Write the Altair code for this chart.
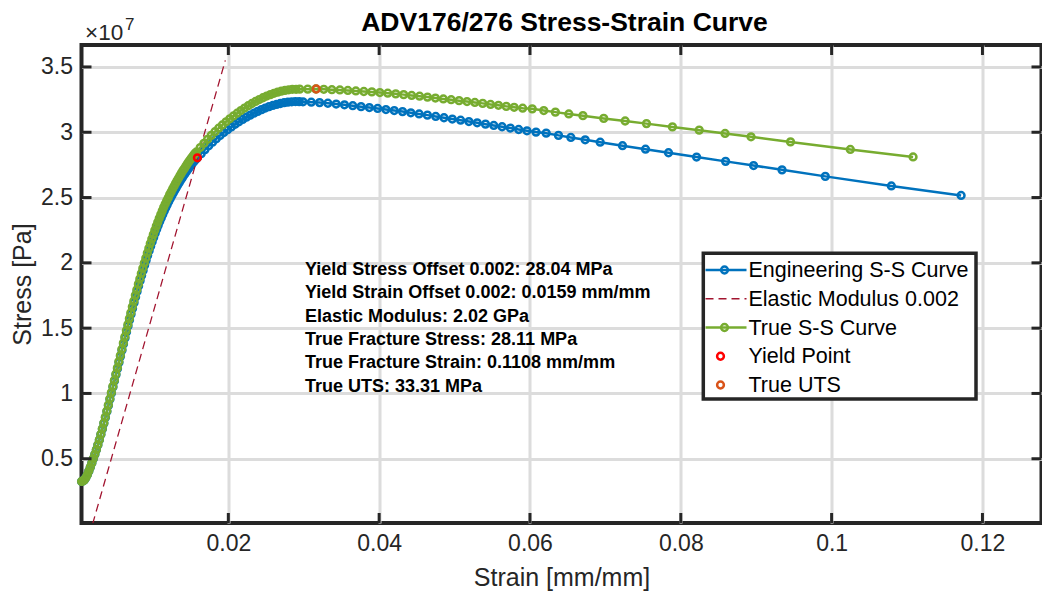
import altair as alt
import pandas as pd

# ---------------- data ----------------
ENG_STRAIN = [
    0.00054, 0.0007, 0.0009, 0.0011, 0.0013, 0.0015, 0.0017, 0.0019, 0.0021, 0.0023,
    0.0025, 0.0027, 0.0029, 0.0031, 0.0033, 0.0035, 0.0037, 0.0039, 0.0041, 0.0043,
    0.0045, 0.0047, 0.0049, 0.0051, 0.0053, 0.0055, 0.0057, 0.0059, 0.0061, 0.0063,
    0.0065, 0.0067, 0.0069, 0.0071, 0.0073, 0.0075, 0.0077, 0.0079, 0.0081, 0.0083,
    0.0085, 0.0087, 0.0089, 0.0091, 0.0093, 0.0095, 0.0097, 0.0099, 0.0101, 0.0103,
    0.0105, 0.0107, 0.0109, 0.0111, 0.0113, 0.0115, 0.0117, 0.0119, 0.0121, 0.0123,
    0.0125, 0.0127, 0.0129, 0.0131, 0.0133, 0.0135, 0.0137, 0.0139, 0.0141, 0.0143,
    0.0145, 0.0147, 0.0149, 0.0151, 0.0153, 0.0155, 0.0157, 0.0159,
    0.0164, 0.0169, 0.0174, 0.0179, 0.0184, 0.0189, 0.0194, 0.0199, 0.0204, 0.0209,
    0.0214, 0.0219, 0.0224, 0.0229, 0.0234, 0.0239, 0.0244, 0.0249, 0.0254, 0.0259,
    0.0264, 0.0269, 0.0274, 0.0279, 0.0284, 0.0289, 0.0294, 0.0299,
    0.0310, 0.0321, 0.0332, 0.0343, 0.0354, 0.0365, 0.0376, 0.0387, 0.0398, 0.0409,
    0.0420, 0.0431, 0.0442, 0.0453, 0.0464, 0.0475, 0.0486, 0.0497, 0.0508, 0.0519,
    0.0530, 0.0541, 0.0552, 0.0563, 0.0574, 0.0585, 0.0596, 0.0608,
    0.06215, 0.06378, 0.06542, 0.06732, 0.06931, 0.07227, 0.07532, 0.07837, 0.08209,
    0.08594, 0.08965, 0.09342, 0.09916, 0.10792, 0.11717,
]
ENG_STRESS_MPA = [
    3.26, 3.29, 3.38, 3.55, 3.78, 4.05, 4.35, 4.67, 5.00, 5.33,
    5.68, 6.05, 6.44, 6.85, 7.27, 7.71, 8.16, 8.62, 9.08, 9.55,
    10.02, 10.49, 10.96, 11.43, 11.90, 12.37, 12.84, 13.31, 13.78, 14.25,
    14.71, 15.17, 15.62, 16.07, 16.51, 16.95, 17.38, 17.80, 18.22, 18.63,
    19.03, 19.42, 19.81, 20.19, 20.56, 20.92, 21.27, 21.61, 21.94, 22.26,
    22.57, 22.87, 23.16, 23.44, 23.71, 23.97, 24.22, 24.46, 24.69, 24.92,
    25.14, 25.35, 25.56, 25.76, 25.96, 26.15, 26.34, 26.52, 26.70, 26.87,
    27.04, 27.20, 27.36, 27.51, 27.66, 27.80, 27.94, 28.04,
    28.36, 28.67, 28.96, 29.24, 29.50, 29.75, 29.98, 30.20, 30.41, 30.61,
    30.80, 30.98, 31.15, 31.31, 31.46, 31.60, 31.73, 31.85, 31.96, 32.05,
    32.13, 32.20, 32.26, 32.30, 32.33, 32.35, 32.34, 32.33,
    32.30, 32.27, 32.22, 32.16, 32.10, 32.03, 31.96, 31.89, 31.82, 31.74,
    31.66, 31.58, 31.49, 31.40, 31.31, 31.21, 31.11, 31.01, 30.92, 30.82,
    30.72, 30.62, 30.52, 30.42, 30.32, 30.21, 30.11, 30.01,
    29.93, 29.76, 29.60, 29.42, 29.24, 28.97, 28.70, 28.43, 28.10,
    27.77, 27.45, 27.12, 26.62, 25.89, 25.16,
]
TRUE_STRAIN = [
    0.00054, 0.0007, 0.0009, 0.0011, 0.0013, 0.0015, 0.0017, 0.0019, 0.0021, 0.0023,
    0.0025, 0.0027, 0.0029, 0.0031, 0.00329, 0.00349, 0.00369, 0.00389, 0.00409, 0.00429,
    0.00449, 0.00469, 0.00489, 0.00509, 0.00529, 0.00548, 0.00568, 0.00588, 0.00608, 0.00628,
    0.00648, 0.00668, 0.00688, 0.00707, 0.00727, 0.00747, 0.00767, 0.00787, 0.00807, 0.00827,
    0.00846, 0.00866, 0.00886, 0.00906, 0.00926, 0.00946, 0.00965, 0.00985, 0.01005, 0.01025,
    0.01045, 0.01064, 0.01084, 0.01104, 0.01124, 0.01143, 0.01163, 0.01183, 0.01203, 0.01222,
    0.01242, 0.01262, 0.01282, 0.01301, 0.01321, 0.01341, 0.01361, 0.01380, 0.01400, 0.01420,
    0.01440, 0.01459, 0.01479, 0.01499, 0.01518, 0.01538, 0.01558, 0.01577,
    0.01627, 0.01676, 0.01725, 0.01774, 0.01823, 0.01872, 0.01921, 0.01970, 0.02019, 0.02068,
    0.02117, 0.02166, 0.02215, 0.02264, 0.02313, 0.02361, 0.02410, 0.02459, 0.02508, 0.02557,
    0.02605, 0.02654, 0.02702, 0.02751, 0.02800, 0.02849, 0.02898, 0.02946,
    0.03053, 0.03160, 0.03266, 0.03373, 0.03479, 0.03585, 0.03691, 0.03797, 0.03903, 0.04009,
    0.04114, 0.04220, 0.04325, 0.04431, 0.04536, 0.04641, 0.04746, 0.04851, 0.04955, 0.05060,
    0.05165, 0.05269, 0.05373, 0.05477, 0.05582, 0.05686, 0.05790, 0.05903,
    0.06030, 0.06183, 0.06337, 0.06515, 0.06702, 0.06978, 0.07262, 0.07545, 0.07889,
    0.08244, 0.08587, 0.08931, 0.09455, 0.10248, 0.11080,
]
TRUE_STRESS_MPA = [
    3.26, 3.29, 3.38, 3.55, 3.78, 4.06, 4.36, 4.68, 5.01, 5.34,
    5.69, 6.07, 6.46, 6.87, 7.29, 7.74, 8.19, 8.65, 9.12, 9.59,
    10.07, 10.54, 11.01, 11.49, 11.96, 12.44, 12.91, 13.39, 13.86, 14.34,
    14.81, 15.27, 15.73, 16.18, 16.63, 17.08, 17.51, 17.94, 18.37, 18.78,
    19.19, 19.59, 19.99, 20.37, 20.75, 21.12, 21.48, 21.82, 22.16, 22.49,
    22.81, 23.11, 23.41, 23.70, 23.98, 24.25, 24.50, 24.75, 24.99, 25.23,
    25.45, 25.67, 25.89, 26.10, 26.31, 26.50, 26.70, 26.89, 27.08, 27.25,
    27.43, 27.60, 27.77, 27.93, 28.08, 28.23, 28.38, 28.49,
    28.83, 29.15, 29.46, 29.76, 30.04, 30.31, 30.56, 30.80, 31.03, 31.25,
    31.46, 31.66, 31.85, 32.03, 32.20, 32.36, 32.50, 32.64, 32.77, 32.88,
    32.98, 33.07, 33.14, 33.20, 33.25, 33.29, 33.29, 33.30,
    33.30, 33.31, 33.29, 33.26, 33.24, 33.20, 33.16, 33.12, 33.09, 33.04,
    32.99, 32.94, 32.88, 32.82, 32.76, 32.69, 32.62, 32.55, 32.49, 32.42,
    32.35, 32.28, 32.21, 32.13, 32.06, 31.98, 31.91, 31.84,
    31.79, 31.66, 31.54, 31.40, 31.27, 31.06, 30.86, 30.66, 30.41,
    30.16, 29.91, 29.65, 29.26, 28.68, 28.11,
]
ELASTIC_STRAIN = [0.002, 0.0196]
ELASTIC_STRESS_MPA = [0.0, 35.5]
YIELD_STRAIN = [0.0159]
YIELD_STRESS_MPA = [28.04]
UTS_STRAIN = [0.03166]
UTS_STRESS_MPA = [33.31]

X_TICKS = [0.02, 0.04, 0.06, 0.08, 0.10, 0.12]
Y_TICKS_MPA = [5, 10, 15, 20, 25, 30, 35]   # shown as 0.5 ... 3.5 (x10^7 Pa)

TITLE = "ADV176/276 Stress-Strain Curve"
X_TITLE = "Strain [mm/mm]"
Y_TITLE = "Stress [Pa]"
ANNOTATION = [
    "Yield Stress Offset 0.002: 28.04 MPa",
    "Yield Strain Offset 0.002: 0.0159 mm/mm",
    "Elastic Modulus: 2.02 GPa",
    "True Fracture Stress: 28.11 MPa",
    "True Fracture Strain: 0.1108 mm/mm",
    "True UTS: 33.31 MPa",
]
LEGEND_LABELS = [
    "Engineering S-S Curve",
    "Elastic Modulus 0.002",
    "True S-S Curve",
    "Yield Point",
    "True UTS",
]

# ---------------- styling / layout ----------------
FONT = "Liberation Sans"
DARK = "#262626"
BLUE = "#0072BD"
GREEN = "#77AC30"
RED = "#FF0000"
ORANGE = "#D95319"
MAROON = "#A2142F"
GRID = "#dcdcdc"

W, H = 960, 478
PAD = {"left": 81.5, "top": 45, "right": 0, "bottom": 75}
MK = 46
MKW = 2.5

xs = alt.Scale(domain=[0.00053, 0.12783], nice=False, zero=False)
ys = alt.Scale(domain=[0.08, 36.68], nice=False, zero=False)

xaxis = alt.Axis(
    values=X_TICKS, format="~g", grid=True, gridColor=GRID, gridWidth=3,
    ticks=False, tickSize=0, domain=False, labelFlush=False,
    labelFontSize=23, labelColor=DARK, labelFont=FONT, labelPadding=9,
    title=X_TITLE, titleFontSize=25, titleFont=FONT, titleColor=DARK,
    titleFontWeight="normal", titlePadding=10,
)
yaxis = alt.Axis(
    values=Y_TICKS_MPA, labelExpr="format(datum.value / 10, '~g')",
    grid=True, gridColor=GRID, gridWidth=3,
    ticks=False, tickSize=0, domain=False, labelFlush=False,
    labelFontSize=23, labelColor=DARK, labelFont=FONT, labelPadding=9,
    title=Y_TITLE, titleFontSize=25, titleFont=FONT, titleColor=DARK,
    titleFontWeight="normal", titlePadding=5,
)


def X():
    return alt.X("e:Q", scale=xs, axis=xaxis)


def Y():
    return alt.Y("s:Q", scale=ys, axis=yaxis)


eng = pd.DataFrame({"e": ENG_STRAIN, "s": ENG_STRESS_MPA})
tru = pd.DataFrame({"e": TRUE_STRAIN, "s": TRUE_STRESS_MPA})
ela = pd.DataFrame({"e": ELASTIC_STRAIN, "s": ELASTIC_STRESS_MPA})
yld = pd.DataFrame({"e": YIELD_STRAIN, "s": YIELD_STRESS_MPA})
uts = pd.DataFrame({"e": UTS_STRAIN, "s": UTS_STRESS_MPA})
xt = pd.DataFrame({"e": X_TICKS})
yt = pd.DataFrame({"s": Y_TICKS_MPA})
one = pd.DataFrame({"k": [0]})

layers = []
layers.append(alt.Chart(eng).mark_line(color=BLUE, strokeWidth=2.5).encode(x=X(), y=Y()))
layers.append(alt.Chart(eng).mark_point(shape="circle", filled=False, color=BLUE, size=MK,
                                        strokeWidth=MKW, opacity=1).encode(x=X(), y=Y()))
layers.append(alt.Chart(ela).mark_line(color=MAROON, strokeWidth=1.3, strokeDash=[8, 5],
                                       clip=True).encode(x=X(), y=Y()))
layers.append(alt.Chart(tru).mark_line(color=GREEN, strokeWidth=2.5).encode(x=X(), y=Y()))
layers.append(alt.Chart(tru).mark_point(shape="circle", filled=False, color=GREEN, size=MK,
                                        strokeWidth=MKW, opacity=1).encode(x=X(), y=Y()))
layers.append(alt.Chart(yld).mark_point(shape="circle", filled=False, color=RED, size=MK,
                                        strokeWidth=MKW, opacity=1).encode(x=X(), y=Y()))
layers.append(alt.Chart(uts).mark_point(shape="circle", filled=False, color=ORANGE, size=MK,
                                        strokeWidth=MKW, opacity=1).encode(x=X(), y=Y()))

# inward tick marks on all four sides of the box
TL = 10
layers.append(alt.Chart(xt).mark_rule(color=DARK, strokeWidth=3).encode(
    x=X(), y=alt.value(H), y2=alt.value(H - TL)))
layers.append(alt.Chart(xt).mark_rule(color=DARK, strokeWidth=3).encode(
    x=X(), y=alt.value(0), y2=alt.value(TL)))
layers.append(alt.Chart(yt).mark_rule(color=DARK, strokeWidth=3).encode(
    y=Y(), x=alt.value(0), x2=alt.value(TL)))
layers.append(alt.Chart(yt).mark_rule(color=DARK, strokeWidth=3).encode(
    y=Y(), x=alt.value(W), x2=alt.value(W - TL)))

# annotation block
for i, line in enumerate(ANNOTATION):
    layers.append(alt.Chart(one).mark_text(
        font=FONT, fontSize=18, fontWeight="bold", color="#000000",
        align="left", baseline="middle").encode(
        x=alt.value(223.5), y=alt.value(225 + 23.3 * i), text=alt.value(line)))

# legend
LX0, LX1, LY0, LY1 = 621.8, 894.5, 208.3, 354
layers.append(alt.Chart(one).mark_rect(fill="white", stroke=DARK, strokeWidth=3.5).encode(
    x=alt.value(LX0), x2=alt.value(LX1), y=alt.value(LY0), y2=alt.value(LY1)))
ROWS = [225 + 28.75 * i for i in range(5)]
SX0, SX1, SXM = 624, 665, 643
layers.append(alt.Chart(one).mark_rule(color=BLUE, strokeWidth=2.5).encode(
    x=alt.value(SX0), x2=alt.value(SX1), y=alt.value(ROWS[0])))
layers.append(alt.Chart(one).mark_rule(color=MAROON, strokeWidth=1.3, strokeDash=[8, 5]).encode(
    x=alt.value(SX0), x2=alt.value(SX1), y=alt.value(ROWS[1])))
layers.append(alt.Chart(one).mark_rule(color=GREEN, strokeWidth=2.5).encode(
    x=alt.value(SX0), x2=alt.value(SX1), y=alt.value(ROWS[2])))
for row, col, mx in [(0, BLUE, SXM), (2, GREEN, SXM), (3, RED, 639), (4, ORANGE, 639)]:
    layers.append(alt.Chart(one).mark_point(shape="circle", filled=False, color=col, size=MK,
                                            strokeWidth=MKW, opacity=1).encode(
        x=alt.value(mx), y=alt.value(ROWS[row])))
for i, lab in enumerate(LEGEND_LABELS):
    layers.append(alt.Chart(one).mark_text(
        font=FONT, fontSize=21.5, color="#000000", align="left", baseline="middle").encode(
        x=alt.value(667), y=alt.value(ROWS[i] + 1), text=alt.value(lab)))

# title and exponent label
layers.append(alt.Chart(one).mark_text(
    font=FONT, fontSize=26.5, fontWeight="bold", color="#000000", align="center",
    baseline="middle").encode(x=alt.value(W / 2 + 3), y=alt.value(-22), text=alt.value(TITLE)))
layers.append(alt.Chart(one).mark_text(
    font=FONT, fontSize=22.5, color=DARK, align="left", baseline="alphabetic").encode(
    x=alt.value(3.5), y=alt.value(-5), text=alt.value("×10")))
layers.append(alt.Chart(one).mark_text(
    font=FONT, fontSize=17, color=DARK, align="left", baseline="alphabetic").encode(
    x=alt.value(43.5), y=alt.value(-15), text=alt.value("7")))

chart = alt.layer(*layers).properties(
    width=W, height=H, padding=PAD,
    autosize=alt.AutoSizeParams(type="none"),
    background="white",
).configure(font=FONT).configure_view(stroke=DARK, strokeWidth=4)

chart.save("out.html", embed_options={"renderer": "svg", "actions": False})
